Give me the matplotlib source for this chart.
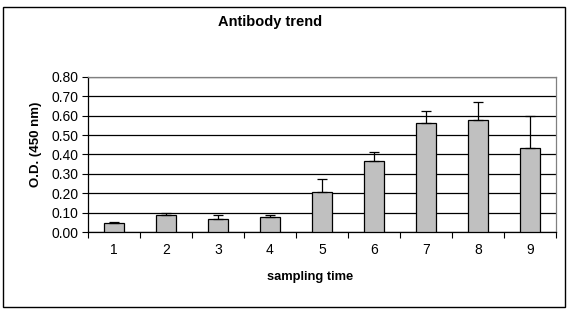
import numpy as np
import matplotlib.pyplot as plt
from matplotlib.patches import Rectangle

# data
samples = ['1', '2', '3', '4', '5', '6', '7', '8', '9']
od_mean = [0.047, 0.090, 0.069, 0.080, 0.208, 0.365, 0.561, 0.576, 0.432]
od_err = [0.005, 0.007, 0.018, 0.010, 0.064, 0.046, 0.062, 0.093, 0.166]
yticks = [0.0, 0.1, 0.2, 0.3, 0.4, 0.5, 0.6, 0.7, 0.8]

plt.rcParams['font.family'] = ['Liberation Sans', 'DejaVu Sans']

W, H = 570, 322
fig = plt.figure(figsize=(W / 100, H / 100), dpi=100)

# outer chart frame
fig.patches.append(Rectangle((3 / W, 1 - 307 / H), 562 / W, 300 / H,
                             transform=fig.transFigure, fill=False,
                             edgecolor='black', linewidth=1.0))

# plot area
left, right, top, bottom = 88, 556, 77, 232
ax = fig.add_axes([left / W, 1 - bottom / H, (right - left) / W, (bottom - top) / H])

x = np.arange(len(samples))
ax.bar(x, od_mean, width=0.385, color='#C0C0C0', edgecolor='black', linewidth=0.9, zorder=3)
ax.errorbar(x, od_mean, yerr=[np.zeros(len(od_err)), od_err], fmt='none',
            ecolor='black', elinewidth=0.9, capsize=3.5, capthick=0.9, zorder=4)

ax.set_xlim(-0.5, len(samples) - 0.5)
ax.set_ylim(0, 0.8)
ax.set_yticks(yticks)
ax.set_yticklabels([f'{v:.2f}' for v in yticks], fontsize=10)
ax.yaxis.grid(True, color='black', linewidth=0.9)
ax.set_axisbelow(True)

# category ticks between bars, labels centered under them
ax.set_xticks(np.arange(-0.5, len(samples), 1.0))
ax.set_xticklabels([])
ax.set_xticks(x, minor=True)
ax.set_xticklabels(samples, minor=True, fontsize=10)
ax.tick_params(axis='x', which='minor', length=0, pad=8)
ax.tick_params(axis='x', which='major', length=4, direction='out', width=0.8)
ax.tick_params(axis='y', length=4, direction='out', width=0.8, pad=3)

for s in ['top', 'right']:
    ax.spines[s].set_color('#808080')
    ax.spines[s].set_linewidth(0.9)
for s in ['left', 'bottom']:
    ax.spines[s].set_color('black')
    ax.spines[s].set_linewidth(0.9)

fig.text(270 / W, 1 - 22 / H, 'Antibody trend', ha='center', va='center',
         fontsize=10.5, fontweight='bold')
fig.text(310 / W, 1 - 277 / H, 'sampling time', ha='center', va='center',
         fontsize=9.3, fontweight='bold')
fig.text(36 / W, 1 - 144 / H, 'O.D. (450 nm)', ha='center', va='center',
         fontsize=9.5, fontweight='bold', rotation=90)

fig.savefig('out.png', dpi=100)
